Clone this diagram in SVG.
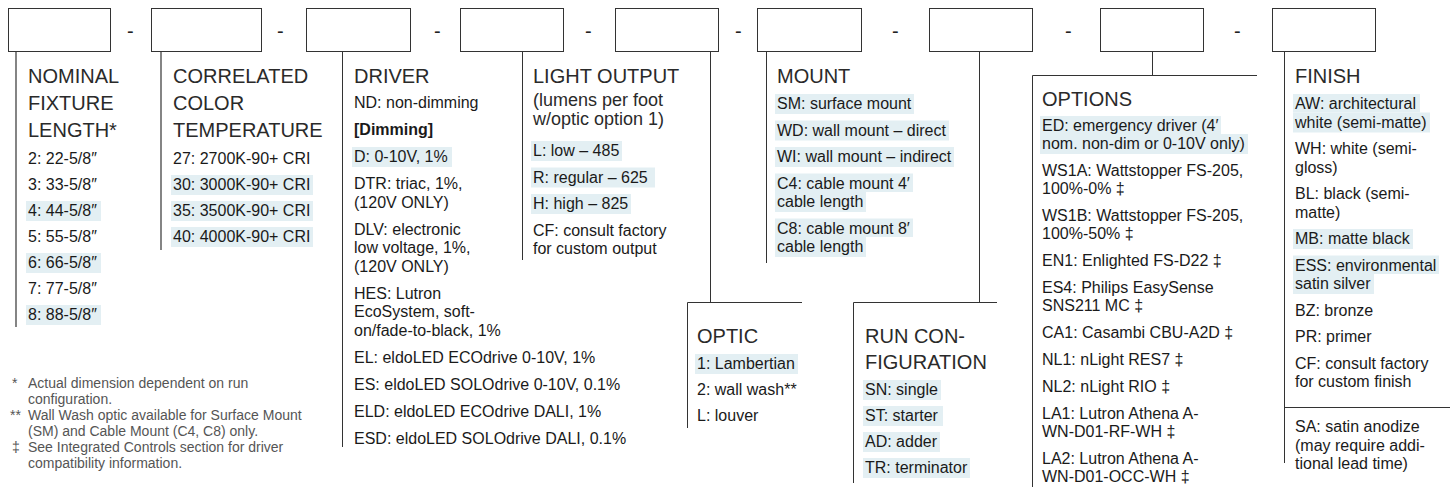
<svg xmlns="http://www.w3.org/2000/svg" width="1454" height="487" viewBox="0 0 1454 487">
<style>
.box{fill:#fff;stroke:#333;stroke-width:1}
.ln{stroke:#333;stroke-width:1;fill:none}
.ln2{stroke:#666;stroke-width:1.6;fill:none}
text{font-family:"Liberation Sans",Arial,sans-serif;fill:#1a1a1a}
.t{font-size:20px;fill:#2a2a2a}
.s{font-size:18px;fill:#2a2a2a}
.i{font-size:16px}
.b{font-weight:bold}
.d{font-size:20px;fill:#222}
.hl{fill:#e3eff3}
.fn{font-size:14px;fill:#555}
</style>
<rect width="1454" height="487" fill="#fff"/>

<g id="dashes">
<text class="d" x="127" y="38">-</text>
<text class="d" x="277" y="38">-</text>
<text class="d" x="434" y="38">-</text>
<text class="d" x="585" y="38">-</text>
<text class="d" x="735" y="38">-</text>
<text class="d" x="892" y="38">-</text>
<text class="d" x="1065" y="38">-</text>
<text class="d" x="1234" y="38">-</text>
</g>

<g id="connectors">
<line class="ln2" x1="16" y1="51" x2="16" y2="327"/>
<line class="ln2" x1="161" y1="51" x2="161" y2="250"/>
<line class="ln" x1="342.5" y1="51" x2="342.5" y2="447"/>
<line class="ln" x1="522.5" y1="51" x2="522.5" y2="260"/>
<polyline class="ln" points="710.5,51 710.5,302.5"/>
<polyline class="ln" points="687.5,428 687.5,302.5 802,302.5"/>
<line class="ln" x1="766.5" y1="51" x2="766.5" y2="263"/>
<polyline class="ln" points="979.5,51 979.5,302.5"/>
<polyline class="ln" points="853.5,483 853.5,302.5 997,302.5"/>
<polyline class="ln" points="1152.5,51 1152.5,75.5"/>
<polyline class="ln" points="1032.5,487 1032.5,75.5 1257,75.5"/>
<line class="ln" x1="1284.5" y1="51" x2="1284.5" y2="463"/>
<line class="ln" x1="1284.5" y1="407.5" x2="1450" y2="407.5"/>
</g>

<g id="node-length">
<rect class="box" x="8.5" y="8.5" width="102" height="43"/>
<text class="t" x="28" y="83">NOMINAL</text>
<text class="t" x="28" y="110">FIXTURE</text>
<text class="t" x="28" y="137">LENGTH*</text>
<rect class="hl" x="26" y="201" width="75" height="20"/>
<rect class="hl" x="26" y="253" width="75" height="20"/>
<rect class="hl" x="26" y="305" width="75" height="20"/>
<text class="i" x="28" y="164">2: 22-5/8″</text>
<text class="i" x="28" y="190">3: 33-5/8″</text>
<text class="i" x="28" y="216">4: 44-5/8″</text>
<text class="i" x="28" y="242">5: 55-5/8″</text>
<text class="i" x="28" y="268">6: 66-5/8″</text>
<text class="i" x="28" y="294">7: 77-5/8″</text>
<text class="i" x="28" y="320">8: 88-5/8″</text>
</g>

<g id="node-cct">
<rect class="box" x="151.5" y="8.5" width="110" height="43"/>
<text class="t" x="173" y="83">CORRELATED</text>
<text class="t" x="173" y="110">COLOR</text>
<text class="t" x="173" y="137">TEMPERATURE</text>
<rect class="hl" x="171" y="175" width="142" height="20"/>
<rect class="hl" x="171" y="201" width="142" height="20"/>
<rect class="hl" x="171" y="227" width="142" height="20"/>
<text class="i" x="173" y="164">27: 2700K-90+ CRI</text>
<text class="i" x="173" y="190">30: 3000K-90+ CRI</text>
<text class="i" x="173" y="216">35: 3500K-90+ CRI</text>
<text class="i" x="173" y="242">40: 4000K-90+ CRI</text>
</g>

<g id="node-driver">
<rect class="box" x="306.5" y="8.5" width="104" height="43"/>
<text class="t" x="354" y="83">DRIVER</text>
<rect class="hl" x="352" y="147" width="100" height="20"/>
<text class="i" x="354" y="108">ND: non-dimming</text>
<text class="i b" x="354" y="135">[Dimming]</text>
<text class="i" x="354" y="162">D: 0-10V, 1%</text>
<text class="i" x="354" y="189">DTR: triac, 1%,</text>
<text class="i" x="354" y="207.5">(120V ONLY)</text>
<text class="i" x="354" y="234.5">DLV: electronic</text>
<text class="i" x="354" y="253">low voltage, 1%,</text>
<text class="i" x="354" y="271.5">(120V ONLY)</text>
<text class="i" x="354" y="298.5">HES: Lutron</text>
<text class="i" x="354" y="317">EcoSystem, soft-</text>
<text class="i" x="354" y="335.5">on/fade-to-black, 1%</text>
<text class="i" x="354" y="362.5">EL: eldoLED ECOdrive 0-10V, 1%</text>
<text class="i" x="354" y="389.5">ES: eldoLED SOLOdrive 0-10V, 0.1%</text>
<text class="i" x="354" y="416.5">ELD: eldoLED ECOdrive DALI, 1%</text>
<text class="i" x="354" y="443.5">ESD: eldoLED SOLOdrive DALI, 0.1%</text>
</g>

<g id="node-light-output">
<rect class="box" x="460.5" y="8.5" width="103" height="43"/>
<text class="t" x="533" y="83">LIGHT OUTPUT</text>
<text class="s" x="533" y="106">(lumens per foot</text>
<text class="s" x="533" y="125">w/optic option 1)</text>
<rect class="hl" x="531" y="141" width="91" height="20"/>
<rect class="hl" x="531" y="167.5" width="124" height="20"/>
<rect class="hl" x="531" y="194" width="100" height="20"/>
<text class="i" x="533" y="156">L: low – 485</text>
<text class="i" x="533" y="182.5">R: regular – 625</text>
<text class="i" x="533" y="209">H: high – 825</text>
<text class="i" x="533" y="235.5">CF: consult factory</text>
<text class="i" x="533" y="254">for custom output</text>
</g>

<g id="node-optic">
<rect class="box" x="615.5" y="8.5" width="103" height="43"/>
<text class="t" x="697" y="343">OPTIC</text>
<rect class="hl" x="695" y="354" width="103" height="20"/>
<text class="i" x="697" y="369">1: Lambertian</text>
<text class="i" x="697" y="395">2: wall wash**</text>
<text class="i" x="697" y="421">L: louver</text>
</g>

<g id="node-mount">
<rect class="box" x="757.5" y="8.5" width="104" height="43"/>
<text class="t" x="777" y="83">MOUNT</text>
<rect class="hl" x="775" y="94" width="139" height="20"/>
<rect class="hl" x="775" y="120.5" width="174" height="20"/>
<rect class="hl" x="775" y="147" width="179" height="20"/>
<rect class="hl" x="775" y="173.5" width="138" height="18.5"/>
<rect class="hl" x="775" y="192" width="91" height="20"/>
<rect class="hl" x="775" y="218.5" width="138" height="18.5"/>
<rect class="hl" x="775" y="237" width="91" height="20"/>
<text class="i" x="777" y="109">SM: surface mount</text>
<text class="i" x="777" y="135.5">WD: wall mount – direct</text>
<text class="i" x="777" y="162">WI: wall mount – indirect</text>
<text class="i" x="777" y="188.5">C4: cable mount 4′</text>
<text class="i" x="777" y="207">cable length</text>
<text class="i" x="777" y="233.5">C8: cable mount 8′</text>
<text class="i" x="777" y="252">cable length</text>
</g>

<g id="node-run-configuration">
<rect class="box" x="929.5" y="8.5" width="103" height="43"/>
<text class="t" x="865" y="343">RUN CON-</text>
<text class="t" x="865" y="369">FIGURATION</text>
<rect class="hl" x="863" y="380" width="78" height="20"/>
<rect class="hl" x="863" y="406" width="80" height="20"/>
<rect class="hl" x="863" y="432" width="77" height="20"/>
<rect class="hl" x="863" y="458" width="107" height="20"/>
<text class="i" x="865" y="395">SN: single</text>
<text class="i" x="865" y="421">ST: starter</text>
<text class="i" x="865" y="447">AD: adder</text>
<text class="i" x="865" y="473">TR: terminator</text>
</g>

<g id="node-options">
<rect class="box" x="1100.5" y="8.5" width="103" height="43"/>
<text class="t" x="1042" y="106">OPTIONS</text>
<rect class="hl" x="1040" y="116" width="181" height="18"/>
<rect class="hl" x="1040" y="134" width="208" height="20"/>
<text class="i" x="1042" y="131">ED: emergency driver (4′</text>
<text class="i" x="1042" y="149">nom. non-dim or 0-10V only)</text>
<text class="i" x="1042" y="176">WS1A: Wattstopper FS-205,</text>
<text class="i" x="1042" y="194">100%-0% ‡</text>
<text class="i" x="1042" y="221">WS1B: Wattstopper FS-205,</text>
<text class="i" x="1042" y="239">100%-50% ‡</text>
<text class="i" x="1042" y="266">EN1: Enlighted FS-D22 ‡</text>
<text class="i" x="1042" y="293">ES4: Philips EasySense</text>
<text class="i" x="1042" y="311">SNS211 MC ‡</text>
<text class="i" x="1042" y="338">CA1: Casambi CBU-A2D ‡</text>
<text class="i" x="1042" y="365">NL1: nLight RES7 ‡</text>
<text class="i" x="1042" y="392">NL2: nLight RIO ‡</text>
<text class="i" x="1042" y="419">LA1: Lutron Athena A-</text>
<text class="i" x="1042" y="437">WN-D01-RF-WH ‡</text>
<text class="i" x="1042" y="464">LA2: Lutron Athena A-</text>
<text class="i" x="1042" y="482">WN-D01-OCC-WH ‡</text>
</g>

<g id="node-finish">
<rect class="box" x="1272.5" y="8.5" width="103" height="43"/>
<text class="t" x="1295" y="83">FINISH</text>
<rect class="hl" x="1293" y="94" width="127" height="18.5"/>
<rect class="hl" x="1293" y="112.5" width="137" height="20"/>
<rect class="hl" x="1293" y="229" width="120" height="20"/>
<rect class="hl" x="1293" y="255.5" width="146" height="18.5"/>
<rect class="hl" x="1293" y="274" width="81" height="20"/>
<text class="i" x="1295" y="109">AW: architectural</text>
<text class="i" x="1295" y="127.5">white (semi-matte)</text>
<text class="i" x="1295" y="154">WH: white (semi-</text>
<text class="i" x="1295" y="172.5">gloss)</text>
<text class="i" x="1295" y="199">BL: black (semi-</text>
<text class="i" x="1295" y="217.5">matte)</text>
<text class="i" x="1295" y="244">MB: matte black</text>
<text class="i" x="1295" y="270.5">ESS: environmental</text>
<text class="i" x="1295" y="289">satin silver</text>
<text class="i" x="1295" y="315.5">BZ: bronze</text>
<text class="i" x="1295" y="342">PR: primer</text>
<text class="i" x="1295" y="368.5">CF: consult factory</text>
<text class="i" x="1295" y="387">for custom finish</text>
<text class="i" x="1295" y="432">SA: satin anodize</text>
<text class="i" x="1295" y="450.5">(may require addi-</text>
<text class="i" x="1295" y="469">tional lead time)</text>
</g>

<g id="footnotes">
<text class="fn" x="12" y="388">*</text>
<text class="fn" x="28" y="388">Actual dimension dependent on run</text>
<text class="fn" x="28" y="404">configuration.</text>
<text class="fn" x="10" y="420">**</text>
<text class="fn" x="28" y="420">Wall Wash optic available for Surface Mount</text>
<text class="fn" x="28" y="436">(SM) and Cable Mount (C4, C8) only.</text>
<text class="fn" x="12" y="452">‡</text>
<text class="fn" x="28" y="452">See Integrated Controls section for driver</text>
<text class="fn" x="28" y="468">compatibility information.</text>
</g>
</svg>
